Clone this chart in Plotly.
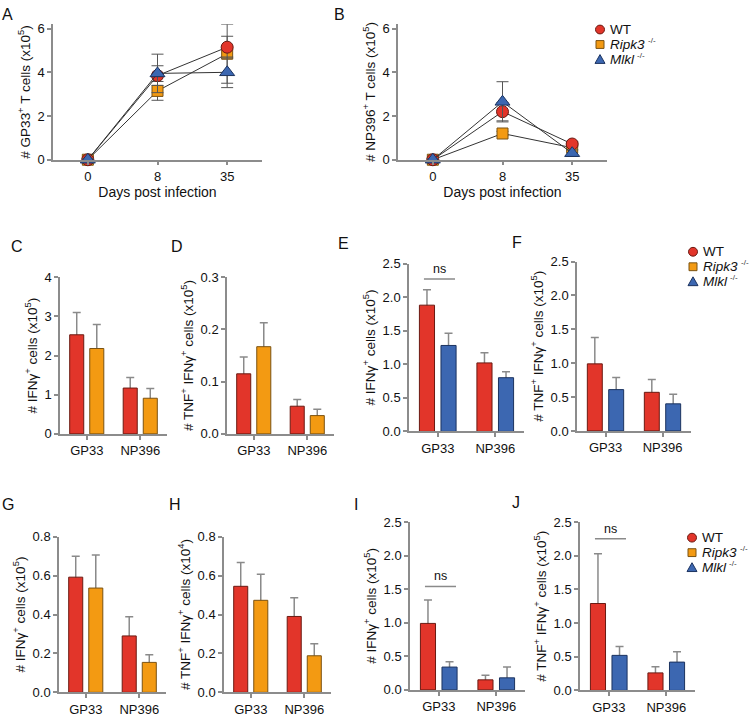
import plotly.graph_objects as go

W, H = 750, 717

# ---------------- data ----------------
days = ['0', '8', '35']
epitopes = ['GP33', 'NP396']
group_names = ['WT', 'Ripk3', 'Mlkl']

# A: GP33+ T cells (x10^5)
a_wt = [0, 3.85, 5.15]
a_wt_err = [0.05, 0.45, 0.50]
a_ripk3 = [0, 3.15, 4.85]
a_ripk3_err = [0.05, 0.43, 1.35]
a_mlkl = [0, 3.95, 4.00]
a_mlkl_err = [0.05, 0.88, 0.70]

# B: NP396+ T cells (x10^5)
b_wt = [0, 2.20, 0.72]
b_wt_err = [0.05, 0.42, 0.12]
b_ripk3 = [0, 1.20, 0.55]
b_ripk3_err = [0.05, 0.10, 0.10]
b_mlkl = [0, 2.65, 0.30]
b_mlkl_err = [0.05, 0.92, 0.15]

# C-J bar panels: values and (upper) SEM
c_wt = [2.53, 1.17];   c_wt_err = [0.57, 0.27]
c_ko = [2.18, 0.91];   c_ko_err = [0.61, 0.25]
d_wt = [0.115, 0.053]; d_wt_err = [0.032, 0.013]
d_ko = [0.167, 0.035]; d_ko_err = [0.046, 0.012]
e_wt = [1.88, 1.02];   e_wt_err = [0.23, 0.15]
e_ko = [1.28, 0.80];   e_ko_err = [0.18, 0.09]
f_wt = [0.99, 0.57];   f_wt_err = [0.39, 0.19]
f_ko = [0.61, 0.40];   f_ko_err = [0.18, 0.14]
g_wt = [0.592, 0.290]; g_wt_err = [0.108, 0.099]
g_ko = [0.536, 0.154]; g_ko_err = [0.170, 0.039]
h_wt = [0.545, 0.390]; h_wt_err = [0.122, 0.096]
h_ko = [0.473, 0.188]; h_ko_err = [0.134, 0.062]
i_wt = [0.99, 0.15];   i_wt_err = [0.35, 0.07]
i_ko = [0.34, 0.18];   i_ko_err = [0.08, 0.16]
j_wt = [1.29, 0.26];   j_wt_err = [0.74, 0.09]
j_ko = [0.52, 0.42];   j_ko_err = [0.13, 0.155]

# ---------------- style ----------------
RED, RED_E = '#e2352a', '#6a1a12'
ORA, ORA_E = '#f39a12', '#7a5212'
BLU, BLU_E = '#3c67b1', '#1c335f'
AXC = '#8c8c8c'
FONT = 'Liberation Sans, Arial, Helvetica, sans-serif'

T_IFN = '# IFNγ<sup>+</sup> cells (x10<sup>5</sup>)'
T_TNF5 = '# TNF<sup>+</sup> IFNγ<sup>+</sup> cells (x10<sup>5</sup>)'
T_TNF4 = '# TNF<sup>+</sup> IFNγ<sup>+</sup> cells (x10<sup>4</sup>)'

# panel layout in pixels: letter, x0, x1, ytop, ybottom, yrange, dtick, fmt, ytitle
panels = [
    ('A', 53, 262, 17.6, 156, [0, 6.2], 2, '', '# GP33<sup>+</sup> T cells (x10<sup>5</sup>)'),
    ('B', 398, 607, 17.6, 156, [0, 6.2], 2, '', '# NP396<sup>+</sup> T cells (x10<sup>5</sup>)'),
    ('C', 60, 167, 276, 436, [0, 4], 1, '', T_IFN),
    ('D', 227, 334, 276, 436, [0, 0.3], 0.1, '.1f', T_TNF5),
    ('E', 409, 524, 262, 433.5, [0, 2.5], 0.5, '.1f', T_IFN),
    ('F', 577, 691, 260, 433, [0, 2.5], 0.5, '.1f', T_TNF5),
    ('G', 59, 166, 541, 700, [0, 0.8], 0.2, '.1f', T_IFN),
    ('H', 224, 331, 541, 700, [0, 0.8], 0.2, '.1f', T_TNF4),
    ('I', 410, 525, 526, 697.5, [0, 2.5], 0.5, '.1f', T_IFN),
    ('J', 580, 695, 526, 698, [0, 2.5], 0.5, '.1f', T_TNF5),
]
letter_pos = {'A': (7, 8), 'B': (339, 8), 'C': (17, 245), 'D': (177, 245),
              'E': (343, 242), 'F': (517, 241), 'G': (8, 508), 'H': (175, 508),
              'I': (356, 508), 'J': (516, 506)}

fig = go.Figure()
layout = dict(width=W, height=H, margin=dict(l=0, r=0, t=0, b=0),
              paper_bgcolor='white', plot_bgcolor='white', showlegend=False,
              barmode='group', bargap=0.25, bargroupgap=0.3,
              font=dict(family=FONT, color='#111', size=13))
annotations, shapes = [], []

def ax_name(i, kind):
    return kind + ('axis' if i == 1 else 'axis%d' % i)

def ref(i, kind):
    return kind + ('' if i == 1 else str(i))

for idx, (L, x0, x1, yt, yb, yr, dt, fmt, ytitle) in enumerate(panels, start=1):
    common = dict(showline=True, linecolor=AXC, linewidth=1.5, ticks='outside',
                  ticklen=4, tickcolor=AXC, tickwidth=1.5, showgrid=False,
                  zeroline=False, tickfont=dict(size=13, color='#111'), fixedrange=True)
    xa = dict(common, domain=[x0 / W, x1 / W], anchor=ref(idx, 'y'), type='category')
    ya = dict(common, domain=[1 - yb / H, 1 - yt / H], anchor=ref(idx, 'x'),
              range=yr, dtick=dt, tick0=0, tickformat=fmt,
              title=dict(text=ytitle, font=dict(size=13.5), standoff=4))
    if idx <= 2:
        xa.update(range=[-0.5, 2.5],
                  title=dict(text='Days post infection', font=dict(size=14), standoff=4))
    else:
        xa.update(range=[-0.5, 1.5])
    layout[ax_name(idx, 'x')] = xa
    layout[ax_name(idx, 'y')] = ya
    lx, ly = letter_pos[L]
    annotations.append(dict(text=L, x=lx / W, y=1 - ly / H, xref='paper', yref='paper',
                            xanchor='center', yanchor='middle', showarrow=False,
                            font=dict(size=16, color='#111')))

# ---------------- line panels ----------------
def line_trace(i, y, err, color, edge, symbol, size, name):
    return go.Scatter(x=days, y=y, mode='lines+markers', name=name,
                      xaxis=ref(i, 'x'), yaxis=ref(i, 'y'), cliponaxis=False,
                      line=dict(color='#333', width=1),
                      marker=dict(color=color, symbol=symbol, size=size,
                                  line=dict(color=edge, width=1)),
                      error_y=dict(type='data', array=err, color='#555',
                                   thickness=1, width=6))

for i, (wt, wte, rk, rke, ml, mle) in [(1, (a_wt, a_wt_err, a_ripk3, a_ripk3_err, a_mlkl, a_mlkl_err)),
                                         (2, (b_wt, b_wt_err, b_ripk3, b_ripk3_err, b_mlkl, b_mlkl_err))]:
    fig.add_trace(line_trace(i, rk, rke, ORA, ORA_E, 'square', 11, group_names[1]))
    fig.add_trace(line_trace(i, wt, wte, RED, RED_E, 'circle', 12, group_names[0]))
    fig.add_trace(line_trace(i, ml, mle, BLU, BLU_E, 'triangle-up', 13, group_names[2]))

# ---------------- bar panels ----------------
bar_sets = [
    (3, c_wt, c_wt_err, c_ko, c_ko_err, ORA, ORA_E),
    (4, d_wt, d_wt_err, d_ko, d_ko_err, ORA, ORA_E),
    (5, e_wt, e_wt_err, e_ko, e_ko_err, BLU, BLU_E),
    (6, f_wt, f_wt_err, f_ko, f_ko_err, BLU, BLU_E),
    (7, g_wt, g_wt_err, g_ko, g_ko_err, ORA, ORA_E),
    (8, h_wt, h_wt_err, h_ko, h_ko_err, ORA, ORA_E),
    (9, i_wt, i_wt_err, i_ko, i_ko_err, BLU, BLU_E),
    (10, j_wt, j_wt_err, j_ko, j_ko_err, BLU, BLU_E),
]
for i, wt, wte, ko, koe, kc, ke in bar_sets:
    xr, yr_ = ref(i, 'x'), ref(i, 'y')
    # error whiskers (drawn first, bars cover the lower half)
    for og, y, e in (('wt', wt, wte), ('ko', ko, koe)):
        fig.add_trace(go.Bar(x=epitopes, y=y, offsetgroup=og, xaxis=xr, yaxis=yr_,
                             marker=dict(color='rgba(0,0,0,0)', line=dict(width=0)),
                             error_y=dict(type='data', array=e, color='#8a8a8a',
                                          thickness=1.5, width=4),
                             hoverinfo='skip'))
    fig.add_trace(go.Bar(x=epitopes, y=wt, offsetgroup='wt', xaxis=xr, yaxis=yr_,
                         name='WT', marker=dict(color=RED, line=dict(color=RED_E, width=1))))
    fig.add_trace(go.Bar(x=epitopes, y=ko, offsetgroup='ko', xaxis=xr, yaxis=yr_,
                         marker=dict(color=kc, line=dict(color=ke, width=1))))

# ---------------- "ns" brackets ----------------
for i, yv in ((5, 2.27), (9, 1.54), (10, 2.25)):
    shapes.append(dict(type='line', xref=ref(i, 'x'), yref=ref(i, 'y'),
                       x0=-0.24, x1=0.30, y0=yv, y1=yv,
                       line=dict(color='#8a8a8a', width=1.5)))
    annotations.append(dict(text='ns', xref=ref(i, 'x'), yref=ref(i, 'y'), x=0.03, y=yv,
                            yanchor='bottom', yshift=1, showarrow=False,
                            font=dict(size=12.5, color='#111')))

# ---------------- legends ----------------
LEG_FS = 13.5
legend_names = ['WT', '<i>Ripk3</i>', '<i>Mlkl</i>']
legend_em = [1.555, 2.556, 1.777]      # approximate text widths (em) for placing the -/- suffix
legend_sup = ['', '-/-', '-/-']
px = lambda v: v / W
py = lambda v: 1 - v / H
for cx, cy0 in ((600, 23), (693, 250), (692, 542)):
    for k, (name, col, edge) in enumerate(zip(legend_names, (RED, ORA, BLU), (RED_E, ORA_E, BLU_E))):
        cy = cy0 + 15.3 * k
        if k == 0:
            shapes.append(dict(type='circle', xref='paper', yref='paper',
                               x0=px(cx - 4.5), x1=px(cx + 4.5), y0=py(cy + 4.5), y1=py(cy - 4.5),
                               fillcolor=col, line=dict(color=edge, width=1)))
        elif k == 1:
            shapes.append(dict(type='rect', xref='paper', yref='paper',
                               x0=px(cx - 4), x1=px(cx + 4), y0=py(cy + 4), y1=py(cy - 4),
                               fillcolor=col, line=dict(color=edge, width=1)))
        else:
            path = 'M %f,%f L %f,%f L %f,%f Z' % (px(cx - 5), py(cy + 4), px(cx + 5), py(cy + 4),
                                                  px(cx), py(cy - 5))
            shapes.append(dict(type='path', xref='paper', yref='paper', path=path,
                               fillcolor=col, line=dict(color=edge, width=1)))
        annotations.append(dict(text=name, x=px(cx + 8), y=py(cy), xref='paper', yref='paper',
                                xanchor='left', yanchor='middle', showarrow=False,
                                font=dict(size=LEG_FS, color='#111')))
        if legend_sup[k]:
            annotations.append(dict(text=legend_sup[k], x=px(cx + 8 + legend_em[k] * LEG_FS + 3),
                                    y=py(cy - 4), xref='paper', yref='paper',
                                    xanchor='left', yanchor='middle', showarrow=False,
                                    font=dict(size=8, color='#333')))

layout['annotations'] = annotations
layout['shapes'] = shapes
fig.update_layout(**layout)
fig.write_html('out.html', config={'displayModeBar': False},
               post_script="document.body.style.margin='0';document.body.style.overflow='hidden';")
